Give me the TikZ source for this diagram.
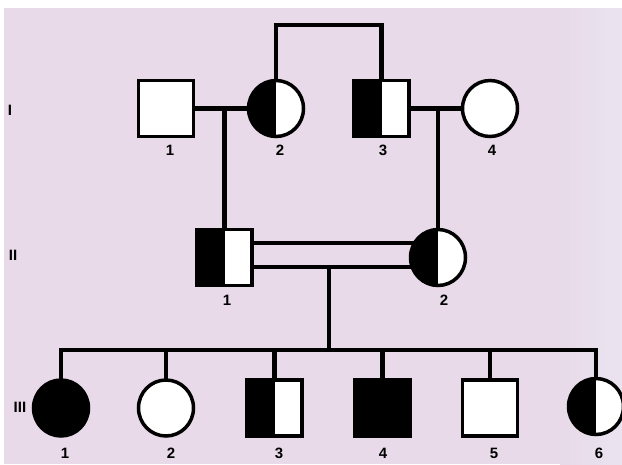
\documentclass[tikz,border=0pt]{standalone}
\usepackage{fontspec}
\setmainfont{Liberation Sans}
\usetikzlibrary{backgrounds,shapes.geometric}
\definecolor{bgpink}{RGB}{232,218,232}
\definecolor{bgright}{RGB}{234,228,240}
\begin{document}
\begin{tikzpicture}[x=1pt,y=-1pt,
  ind/.style={draw=black,line width=3.5pt,fill=white,inner sep=0pt,outer sep=0pt},
  male/.style={ind,rectangle,minimum width=55pt,minimum height=56pt},
  female/.style={ind,ellipse,minimum width=55pt,minimum height=56pt},
  half/.style={path picture={\fill[black] (path picture bounding box.south west) rectangle (path picture bounding box.north);}},
  affected/.style={fill=black},
  lab/.style={font=\bfseries\fontsize{15}{15}\selectfont,inner sep=0pt},
  gen/.style={font=\bfseries\fontsize{15}{15}\selectfont,inner sep=0pt},
  link/.style={line width=4.5pt,draw=black,line join=miter}]
\useasboundingbox (0,0) rectangle (622,464);
% generation I
\node[male] (i1) at (166,108.5) {};
\node[female,half] (i2) at (276,108.5) {};
\node[male,half] (i3) at (381.5,108.5) {};
\node[female] (i4) at (490,108.5) {};
% generation II
\node[male,half] (ii1) at (224.5,257.5) {};
\node[female,half] (ii2) at (438,257.5) {};
% generation III
\node[female,affected] (iii1) at (61,408) {};
\node[female] (iii2) at (166,408) {};
\node[male,half] (iii3) at (274.5,408) {};
\node[male,affected] (iii4) at (382.5,408) {};
\node[male] (iii5) at (490,408) {};
\node[female,half] (iii6) at (596,406.5) {};
% numbers
\node[lab] (n-i1) at (170,150) {1};
\node[lab] (n-i2) at (280,150) {2};
\node[lab] (n-i3) at (383,150) {3};
\node[lab] (n-i4) at (492,150) {4};
\node[lab] (n-ii1) at (227,300) {1};
\node[lab] (n-ii2) at (444,300) {2};
\node[lab] (n-iii1) at (65,453) {1};
\node[lab] (n-iii2) at (171,453) {2};
\node[lab] (n-iii3) at (279,453) {3};
\node[lab] (n-iii4) at (383,453) {4};
\node[lab] (n-iii5) at (494,453) {5};
\node[lab] (n-iii6) at (599,453) {6};
% generation labels
\node[gen] (g1) at (10,110) {I};
\node[gen] (g2) at (13,255) {II};
\node[gen] (g3) at (20,407) {III};
\begin{scope}[on background layer]
  \fill[bgpink] (4,8) rectangle (622,464);
  \shade[left color=bgpink,right color=bgright] (560,8) rectangle (622,464);
  \coordinate (m1) at (224.5,108.5);
  \coordinate (m2) at (438,108.5);
  \coordinate (sibtop) at (0,25);
  \coordinate (dl1) at (0,243);
  \coordinate (dl2) at (0,267);
  \coordinate (mate) at (329,267);
  \coordinate (sib) at (0,350);
  \draw[link] (i1) -- (i2);
  \draw[link] (i3) -- (i4);
  \draw[link] (m1) -- (ii1);
  \draw[link] (m2) -- (ii2);
  \draw[link] (i2) -- (i2 |- sibtop) -| (i3);
  \draw[link] (ii1 |- dl1) -- (ii2 |- dl1);
  \draw[link] (ii1 |- dl2) -- (ii2 |- dl2);
  \draw[link] (mate) -- (mate |- sib);
  \draw[link] (iii1) -- (iii1 |- sib) -- (iii6 |- sib) -- (iii6);
  \foreach \n in {iii2,iii3,iii4,iii5} \draw[link] (\n |- sib) -- (\n);
\end{scope}
\end{tikzpicture}
\end{document}
